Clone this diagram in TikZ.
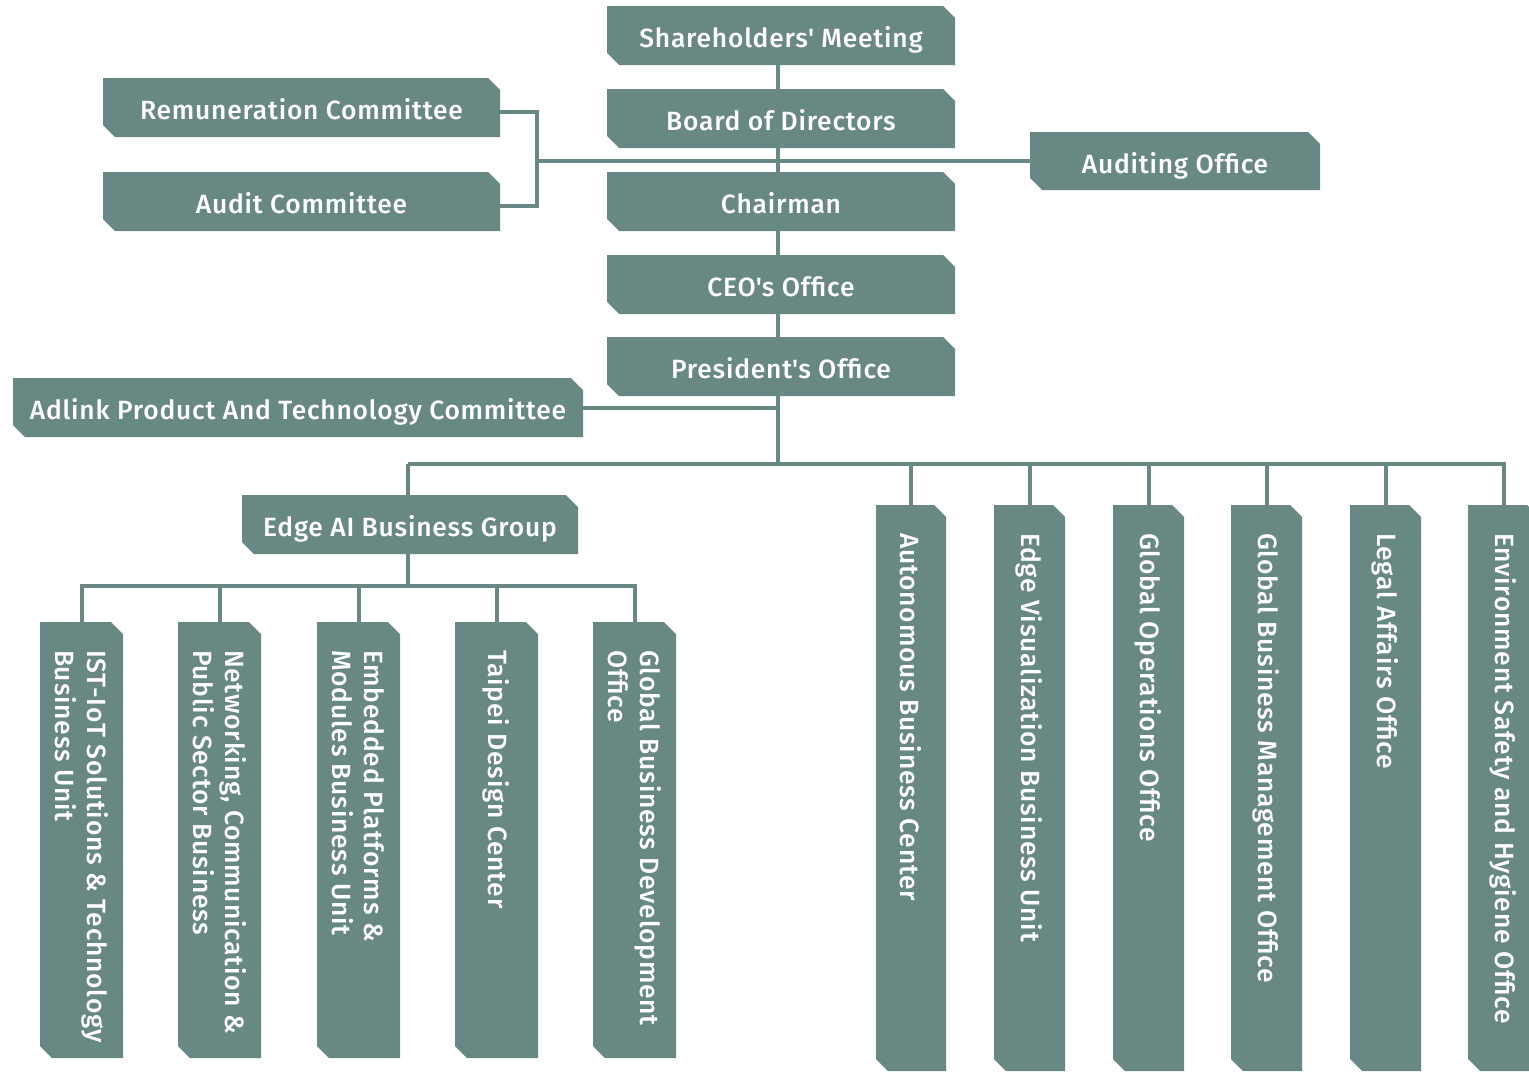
\documentclass[tikz,border=0pt]{standalone}
\usepackage{fontspec}
\setmainfont{Fira Sans Medium}[LetterSpace=3]
\definecolor{boxc}{HTML}{688884}
\tikzset{
  conn/.style={draw=boxc, line width=2pt},
  boxtext/.style={text=white, font=\fontsize{13.2}{16}\selectfont, inner sep=0pt},
  htext/.style={boxtext, text height=9.1pt+3pt, text depth=0pt},
  boxfill/.style={fill=boxc},
}
\newcommand\obox[6]{%
  \fill[boxfill] (#2,#3) -- ({#4-12},#3) -- (#4,{#3+12}) -- (#4,#5) -- ({#2+12},#5) -- (#2,{#5-12}) -- cycle;
  \pgfmathsetmacro\bw{(#4-#2)*0.5}\pgfmathsetmacro\bh{(#5-#3)*0.5}%
  \node[htext, minimum width=\bw pt, minimum height=\bh pt] (#1) at ({(#2+#4)/2},{(#3+#5)/2}) {#6};
}
\newcommand\cbox[6]{%
  \fill[boxfill] (#2,#3) -- ({#4-12},#3) -- (#4,{#3+12}) -- (#4,#5) -- ({#2+12},#5) -- (#2,{#5-12}) -- cycle;
  \pgfmathsetmacro\bw{(#4-#2)*0.5}\pgfmathsetmacro\bh{(#5-#3)*0.5}%
  \node[inner sep=0pt, minimum width=\bw pt, minimum height=\bh pt] (#1) at ({(#2+#4)/2},{(#3+#5)/2}) {};
  \node[boxtext, rotate=-90, anchor=west, align=left] (#1-t) at ([yshift=-14pt]#1.north) {#6};
}
\begin{document}
\begin{tikzpicture}[x=0.5pt,y=-0.5pt]
\useasboundingbox (0,0) rectangle (1529,1072);
\clip (0,0) rectangle (1529,1072);
\coordinate (trunk) at (778,0);
\coordinate (jx) at (537,0);
\coordinate (b1) at (778,464);
\coordinate (b1L) at (408,464);
\coordinate (b2) at (408,586);

\obox{sh}{607}{6}{955}{65}{Shareholders\textquotesingle{} Meeting}
\obox{bod}{607}{89}{955}{148}{Board of Directors}
\obox{chair}{607}{172}{955}{231}{Chairman}
\obox{ceo}{607}{255}{955}{314}{CEO\textquotesingle{}s Office}
\obox{pres}{607}{337}{955}{396}{President\textquotesingle{}s Office}
\obox{rem}{103}{78}{500}{137}{Remuneration Committee}
\obox{aud}{103}{172}{500}{231}{Audit Committee}
\obox{audo}{1030}{132}{1320}{190}{Auditing Office}
\obox{adl}{13}{378}{583}{437}{Adlink Product And Technology Committee}
\obox{eai}{242}{495}{578}{554}{Edge AI Business Group}

\cbox{ist}{40}{622}{123}{1058}{IST-IoT Solutions \& Technology\\Business Unit}
\cbox{net}{178}{622}{261}{1058}{Networking, Communication \&\\Public Sector Business}
\cbox{emb}{317}{622}{400}{1058}{Embedded Platforms \&\\Modules Business Unit}
\cbox{tdc}{455}{622}{538}{1058}{Taipei Design Center}
\cbox{gbd}{593}{622}{676}{1058}{Global Business Development\\Office}

\cbox{abc}{876}{505}{946}{1071}{Autonomous Business Center}
\cbox{evb}{994}{505}{1065}{1071}{Edge Visualization Business Unit}
\cbox{goo}{1113}{505}{1184}{1071}{Global Operations Office}
\cbox{gbm}{1231}{505}{1302}{1071}{Global Business Management Office}
\cbox{lao}{1350}{505}{1421}{1071}{Legal Affairs Office}
\cbox{esh}{1468}{505}{1539}{1071}{Environment Safety and Hygiene Office}

% vertical trunk
\draw[conn] (sh.south -| trunk) -- (bod.north -| trunk);
\draw[conn] (bod.south -| trunk) -- (chair.north -| trunk);
\draw[conn] (chair.south -| trunk) -- (ceo.north -| trunk);
\draw[conn] (ceo.south -| trunk) -- (pres.north -| trunk);
\draw[conn] (pres.south -| trunk) -- (b1);
% committees
\draw[conn] ([yshift=-2pt]rem.east) -- ([yshift=-2pt]rem.east -| jx) -- ([yshift=-2pt]aud.east -| jx) -- ([yshift=-2pt]aud.east);
\draw[conn] (audo.west -| jx) -- (audo.west);
\draw[conn] (adl.east) -- (adl.east -| trunk);
% main branch
\draw[conn] (b1L) -- (esh.north |- b1L) -- (esh.north);
\draw[conn] (b1L) -- (eai.north -| b1L);
\foreach \n in {abc,evb,goo,gbm,lao} \draw[conn] (\n.north |- b1L) -- (\n.north);
% edge AI branch
\draw[conn] (eai.south -| b2) -- (b2);
\draw[conn] (ist.north) -- (ist.north |- b2) -- (gbd.north |- b2) -- (gbd.north);
\foreach \n in {net,emb,tdc} \draw[conn] (\n.north |- b2) -- (\n.north);
\end{tikzpicture}
\end{document}
